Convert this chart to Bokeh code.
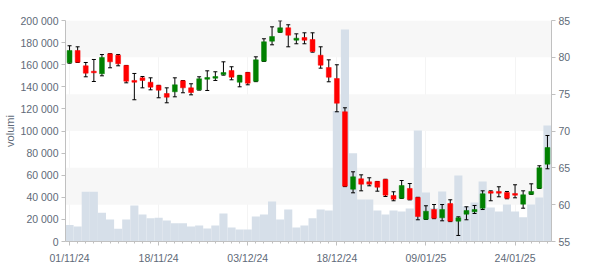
from bokeh.plotting import figure
from bokeh.models import Range1d, LinearAxis, FixedTicker, CustomJSTickFormatter, ColumnDataSource
from bokeh.embed import file_html
from bokeh.resources import INLINE

dates = ["01/11/24", "04/11/24", "05/11/24", "06/11/24", "07/11/24", "08/11/24",
         "11/11/24", "12/11/24", "13/11/24", "14/11/24", "15/11/24",
         "18/11/24", "19/11/24", "20/11/24", "21/11/24", "22/11/24",
         "25/11/24", "26/11/24", "27/11/24", "28/11/24", "29/11/24",
         "02/12/24", "03/12/24", "04/12/24", "05/12/24", "06/12/24",
         "09/12/24", "10/12/24", "11/12/24", "12/12/24", "13/12/24",
         "16/12/24", "17/12/24", "18/12/24", "19/12/24", "20/12/24",
         "23/12/24", "27/12/24", "30/12/24",
         "02/01/25", "03/01/25", "06/01/25", "07/01/25", "08/01/25", "09/01/25", "10/01/25",
         "13/01/25", "14/01/25", "15/01/25", "16/01/25", "17/01/25",
         "20/01/25", "21/01/25", "22/01/25", "23/01/25", "24/01/25",
         "27/01/25", "28/01/25", "29/01/25", "30/01/25"]

opens = [79.26, 80.93, 78.85, 78.12, 77.77, 80.48, 80.29, 78.89, 76.86, 77.22,
         76.62, 76.18, 75.09, 75.32, 76.81, 75.86, 75.59, 77.03, 77.17, 77.67,
         78.21, 76.62, 77.94, 76.76, 79.48, 82.19, 83.41, 84.01, 82.33, 82.69,
         82.42, 80.29, 78.62, 77.13, 72.61, 62.10, 63.51, 63.10, 63.15, 63.42,
         61.25, 60.88, 62.20, 60.97, 58.03, 59.34, 58.22, 60.16, 57.76, 58.71,
         59.03, 59.52, 61.79, 61.79, 61.65, 61.52, 60.07, 61.42, 62.24, 65.49]
highs = [81.57, 81.43, 79.30, 79.71, 80.38, 80.50, 80.38, 78.90, 77.81, 77.40,
         77.22, 76.20, 75.86, 77.22, 76.85, 76.41, 77.36, 78.17, 78.04, 79.39,
         78.72, 77.55, 77.95, 80.07, 82.52, 84.14, 84.96, 84.42, 83.19, 83.33,
         83.33, 81.43, 79.66, 78.99, 73.15, 64.46, 64.05, 63.65, 63.15, 63.45,
         61.75, 63.28, 62.87, 61.00, 59.85, 60.02, 60.02, 60.66, 58.35, 59.71,
         59.89, 61.88, 61.88, 62.43, 61.79, 62.70, 61.88, 62.83, 65.28, 69.39]
lows = [79.20, 79.30, 77.36, 76.72, 77.49, 78.58, 78.85, 76.54, 74.24, 75.86,
        75.59, 74.51, 73.83, 74.64, 75.19, 74.91, 75.55, 75.50, 76.86, 77.58,
        76.95, 76.00, 76.27, 76.70, 79.45, 81.70, 83.40, 81.43, 81.84, 81.84,
        80.70, 78.53, 76.68, 72.61, 62.45, 61.61, 61.88, 62.56, 61.83, 61.11,
        60.53, 60.85, 60.65, 57.95, 58.00, 58.10, 57.81, 57.70, 55.82, 57.95,
        58.80, 59.34, 60.53, 61.07, 60.80, 60.93, 59.52, 61.40, 62.20, 64.87]
closes = [80.93, 79.34, 77.85, 77.90, 79.98, 79.39, 79.12, 76.76, 76.62, 76.86,
          75.95, 75.54, 74.59, 76.27, 75.86, 75.23, 77.09, 77.26, 77.40, 77.94,
          77.30, 77.53, 76.49, 79.66, 82.11, 82.83, 84.01, 83.00, 82.60, 82.33,
          80.79, 78.93, 77.30, 73.77, 62.51, 63.78, 62.78, 62.78, 62.37, 61.29,
          60.74, 62.60, 60.70, 58.39, 59.11, 58.16, 59.34, 57.76, 58.22, 59.21,
          59.34, 61.48, 61.56, 61.56, 60.88, 61.29, 61.34, 61.79, 65.01, 67.76]
volumes = [15000, 13500, 45000, 45000, 26000, 20000, 11500, 20000, 32500, 24500,
           21000, 21500, 19000, 16500, 16500, 13500, 14500, 11800, 14500, 25300,
           12700, 10900, 10900, 22600, 24400, 36200, 19900, 29000, 12700, 14500,
           21100, 29000, 28000, 118000, 191900, 79900, 38000, 38000, 28000, 24400,
           28000, 27100, 29900, 100500, 44300, 30000, 45200, 34000, 59700, 32000,
           35300, 54300, 30800, 27100, 33500, 27100, 22000, 33500, 39800, 105000]

date_tick_idx = [0, 11, 22, 33, 44, 55]
price_ticks = [55, 60, 65, 70, 75, 80, 85]
volume_ticks = [0, 20000, 40000, 60000, 80000, 100000, 120000, 140000, 160000, 180000, 200000]

idx = list(range(len(dates)))
up_color, down_color = "#008000", "#ff0000"
colors = [up_color if c >= o else down_color for o, c in zip(opens, closes)]
tops = [max(o, c) for o, c in zip(opens, closes)]
bottoms = [min(o, c) for o, c in zip(opens, closes)]

src = ColumnDataSource(dict(x=idx, open=opens, high=highs, low=lows, close=closes,
                            vol=volumes, color=colors, top=tops, bottom=bottoms))

LABEL_COLOR = "#606a78"
FONT = "Liberation Sans"
FS = "10.5px"

p = figure(width=600, height=270, output_backend="svg", toolbar_location=None,
           x_range=Range1d(-0.5, 59.5), y_range=Range1d(price_ticks[0], price_ticks[-1]),
           y_axis_location="right", min_border_left=60, min_border_right=49,
           min_border_top=20, min_border_bottom=29)
p.extra_y_ranges = {"vol": Range1d(volume_ticks[0], volume_ticks[-1])}
p.outline_line_color = None
p.background_fill_color = "white"

# volume bars
p.vbar(x="x", top="vol", bottom=0, width=1.0, source=src, y_range_name="vol",
       fill_color="#d6dfe9", line_color=None)

# wicks and caps
p.segment(x0="x", y0="low", x1="x", y1="high", source=src, line_color="black", line_width=1)
p.scatter(x="x", y="high", source=src, marker="dash", size=4, line_color="black", line_width=1)
p.scatter(x="x", y="low", source=src, marker="dash", size=4, line_color="black", line_width=1)

# bodies
p.vbar(x="x", top="top", bottom="bottom", width=0.6, source=src,
       fill_color="color", line_color="color", line_width=0.5)

# right price axis
ra = p.yaxis[0]
ra.ticker = FixedTicker(ticks=price_ticks)
ra.axis_line_color = "#c0c0c0"
ra.major_tick_line_color = "#c0c0c0"
ra.major_tick_out = 4
ra.major_tick_in = 0
ra.minor_tick_line_color = None
ra.major_label_standoff = 3
ra.major_label_text_color = LABEL_COLOR
ra.major_label_text_font = FONT
ra.major_label_text_font_size = FS

# left volume axis
la = LinearAxis(y_range_name="vol", ticker=FixedTicker(ticks=volume_ticks),
                formatter=CustomJSTickFormatter(code="return tick.toString().replace(/\\B(?=(\\d{3})+(?!\\d))/g, ' ');"),
                axis_label="volumi")
la.axis_line_color = "#c0c0c0"
la.major_tick_line_color = "#c0c0c0"
la.major_tick_out = 4
la.major_tick_in = 0
la.minor_tick_line_color = None
la.major_label_standoff = 3
la.major_label_text_color = LABEL_COLOR
la.major_label_text_font = FONT
la.major_label_text_font_size = FS
la.axis_label_text_color = LABEL_COLOR
la.axis_label_text_font = FONT
la.axis_label_text_font_size = "11px"
la.axis_label_text_font_style = "normal"
la.axis_label_standoff = 2
p.add_layout(la, "left")

# x axis
xa = p.xaxis[0]
xa.ticker = FixedTicker(ticks=date_tick_idx, minor_ticks=idx)
xa.major_label_overrides = {i: dates[i] for i in date_tick_idx}
xa.axis_line_color = "#c0c0c0"
xa.major_tick_line_color = "#c0c0c0"
xa.minor_tick_line_color = "#c0c0c0"
xa.major_tick_out = 4
xa.major_tick_in = 0
xa.minor_tick_out = 2
xa.minor_tick_in = 0
xa.major_label_standoff = 6
xa.major_label_text_color = LABEL_COLOR
xa.major_label_text_font = FONT
xa.major_label_text_font_size = FS

# grids
p.ygrid.ticker = FixedTicker(ticks=price_ticks)
p.ygrid.grid_line_color = None
p.ygrid.band_fill_color = "#f7f7f7"
p.ygrid.band_fill_alpha = 1.0
p.xgrid.ticker = FixedTicker(ticks=date_tick_idx)
p.xgrid.grid_line_color = "#ededed"
p.xgrid.grid_line_alpha = 0.6

open("out.html", "w").write(file_html(p, INLINE))
